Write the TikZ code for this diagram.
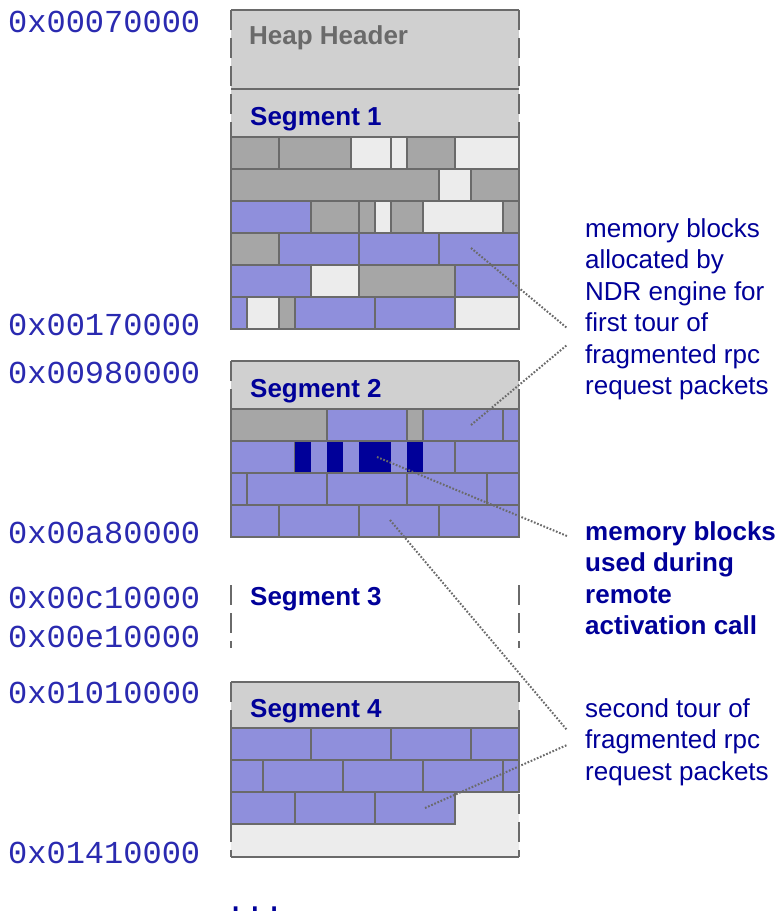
\documentclass[tikz,border=0pt]{standalone}
\usepackage{fontspec}
\setmainfont{Liberation Sans}
\newfontfamily\addrfont{Liberation Mono}
\usepackage{tikz}
\usetikzlibrary{positioning}
\usepackage{xcolor}
\definecolor{hdrgrey}{HTML}{D0D0D0}
\definecolor{blkdark}{HTML}{A6A6A6}
\definecolor{blklight}{HTML}{ECECEC}
\definecolor{blkblue}{HTML}{8F8FDC}
\definecolor{blknavy}{HTML}{000099}
\definecolor{edgegrey}{HTML}{6A6A6A}
\definecolor{segblue}{HTML}{000099}
\definecolor{addrblue}{HTML}{2A2AB0}

\begin{document}
\begin{tikzpicture}[x=1pt, y=-1pt,
    blk/.style = {draw=edgegrey, line width=1.4pt},
    frametop/.style = {draw=edgegrey, line width=2pt},
    frameside/.style = {draw=edgegrey, line width=2pt, dash pattern=on 20pt off 8pt},
    seglabel/.style = {anchor=base west, inner sep=0pt, font=\fontsize{26}{31}\selectfont\bfseries, text=segblue},
    addr/.style = {anchor=base west, inner sep=0pt, font=\addrfont\fontsize{32}{36}\selectfont, text=addrblue},
    note/.style = {anchor=north west, inner sep=0pt, align=left, font=\fontsize{26}{31.5}\selectfont, text=segblue},
    leader/.style = {draw=edgegrey, line width=2pt, dash pattern=on 1.7pt off 1.7pt}
]
\useasboundingbox (0,0) rectangle (784,919);

% Heap header and Segment 1
\fill[hdrgrey] (231,10) rectangle (519,137);
\draw[frametop] (231,89) -- (519,89);
\foreach \xa/\xb/\c in {231/279/blkdark, 279/351/blkdark, 351/391/blklight, 391/407/blklight, 407/455/blkdark, 455/519/blklight}
  \draw[blk, fill=\c] (\xa,137) rectangle (\xb,169);
\foreach \xa/\xb/\c in {231/439/blkdark, 439/471/blklight, 471/519/blkdark}
  \draw[blk, fill=\c] (\xa,169) rectangle (\xb,201);
\foreach \xa/\xb/\c in {231/311/blkblue, 311/359/blkdark, 359/375/blkdark, 375/391/blklight, 391/423/blkdark, 423/503/blklight, 503/519/blkdark}
  \draw[blk, fill=\c] (\xa,201) rectangle (\xb,233);
\foreach \xa/\xb/\c in {231/279/blkdark, 279/359/blkblue, 359/439/blkblue, 439/519/blkblue}
  \draw[blk, fill=\c] (\xa,233) rectangle (\xb,265);
\foreach \xa/\xb/\c in {231/311/blkblue, 311/359/blklight, 359/455/blkdark, 455/519/blkblue}
  \draw[blk, fill=\c] (\xa,265) rectangle (\xb,297);
\foreach \xa/\xb/\c in {231/247/blkblue, 247/279/blklight, 279/295/blkdark, 295/375/blkblue, 375/455/blkblue, 455/519/blklight}
  \draw[blk, fill=\c] (\xa,297) rectangle (\xb,329);
\draw[frametop] (231,10) -- (519,10);
\draw[frameside] (231,10) -- (231,329);
\draw[frameside] (519,10) -- (519,329);

% Segment 2
\fill[hdrgrey] (231,361) rectangle (519,409);
\foreach \xa/\xb/\c in {231/327/blkdark, 327/407/blkblue, 407/423/blkdark, 423/503/blkblue, 503/519/blkblue}
  \draw[blk, fill=\c] (\xa,409) rectangle (\xb,441);
\foreach \xa/\xb/\c in {231/295/blkblue, 295/455/blkblue, 455/519/blkblue}
  \draw[blk, fill=\c] (\xa,441) rectangle (\xb,473);
\foreach \xa/\xb in {295/311, 327/343, 359/391, 407/423}
  \fill[blknavy] (\xa,441.7) rectangle (\xb,472.3);
\foreach \xa/\xb/\c in {231/247/blkblue, 247/327/blkblue, 327/407/blkblue, 407/487/blkblue, 487/519/blkblue}
  \draw[blk, fill=\c] (\xa,473) rectangle (\xb,505);
\foreach \xa/\xb/\c in {231/279/blkblue, 279/359/blkblue, 359/439/blkblue, 439/519/blkblue}
  \draw[blk, fill=\c] (\xa,505) rectangle (\xb,537);
\draw[frametop] (231,361) -- (519,361);
\draw[frameside] (231,361) -- (231,537);
\draw[frameside] (519,361) -- (519,537);

% Segment 3 (sides only)
\draw[frameside] (231,585) -- (231,648);
\draw[frameside] (519,585) -- (519,648);

% Segment 4
\fill[hdrgrey] (231,682) rectangle (519,728);
\fill[blklight] (231,792) rectangle (519,857);
\foreach \xa/\xb/\c in {231/311/blkblue, 311/391/blkblue, 391/471/blkblue, 471/519/blkblue}
  \draw[blk, fill=\c] (\xa,728) rectangle (\xb,760);
\foreach \xa/\xb/\c in {231/263/blkblue, 263/343/blkblue, 343/423/blkblue, 423/503/blkblue, 503/519/blkblue}
  \draw[blk, fill=\c] (\xa,760) rectangle (\xb,792);
\foreach \xa/\xb/\c in {231/295/blkblue, 295/375/blkblue, 375/455/blkblue}
  \draw[blk, fill=\c] (\xa,792) rectangle (\xb,824);
\draw[frametop] (231,682) -- (519,682);
\draw[frametop] (231,857) -- (519,857);
\draw[frameside] (231,682) -- (231,857);
\draw[frameside] (519,682) -- (519,857);

% Labels inside the heap
\node[seglabel, text=edgegrey] (heaphdr) at (249,44) {Heap Header};
\node[seglabel] (seg1) at (250,125) {Segment 1};
\node[seglabel] (seg2) at (250,397) {Segment 2};
\node[seglabel] (seg3) at (250,605) {Segment 3};
\node[seglabel] (seg4) at (250,717) {Segment 4};

% Addresses
\foreach \ya/\txt [count=\i] in {32/0x00070000, 335/0x00170000, 383/0x00980000, 543/0x00a80000, 608/0x00c10000, 647/0x00e10000, 703/0x01010000, 863/0x01410000}
  \node[addr] (addr\i) at (8,\ya) {\txt};
\node[addr, font=\addrfont\fontsize{32}{32}\selectfont, text=segblue] (more) at (226,911) {...};

% Notes on the right
\node[note] (note1) at (585,218) {memory blocks\\allocated by\\NDR engine for\\first tour of\\fragmented rpc\\request packets};
\node[note, font=\fontsize{26}{31.5}\selectfont\bfseries] (note2) at (585,521) {memory blocks\\used during\\remote\\activation call};
\node[note] (note3) at (585,698) {second tour of\\fragmented rpc\\request packets};

% Dotted leaders
\coordinate (s1a) at (471,248);
\coordinate (e1a) at (567,328);
\coordinate (s2a) at (471,425);
\coordinate (e2a) at (567,345);
\coordinate (s2b) at (377,457);
\coordinate (e2b) at (567,536);
\coordinate (s2c) at (390,520);
\coordinate (e2c) at (567,730);
\coordinate (s4a) at (425,808);
\coordinate (e4a) at (567,745);
\draw[leader] (s1a) -- (e1a);
\draw[leader] (s2a) -- (e2a);
\draw[leader] (s2b) -- (e2b);
\draw[leader] (s2c) -- (e2c);
\draw[leader] (s4a) -- (e4a);

\end{tikzpicture}
\end{document}
